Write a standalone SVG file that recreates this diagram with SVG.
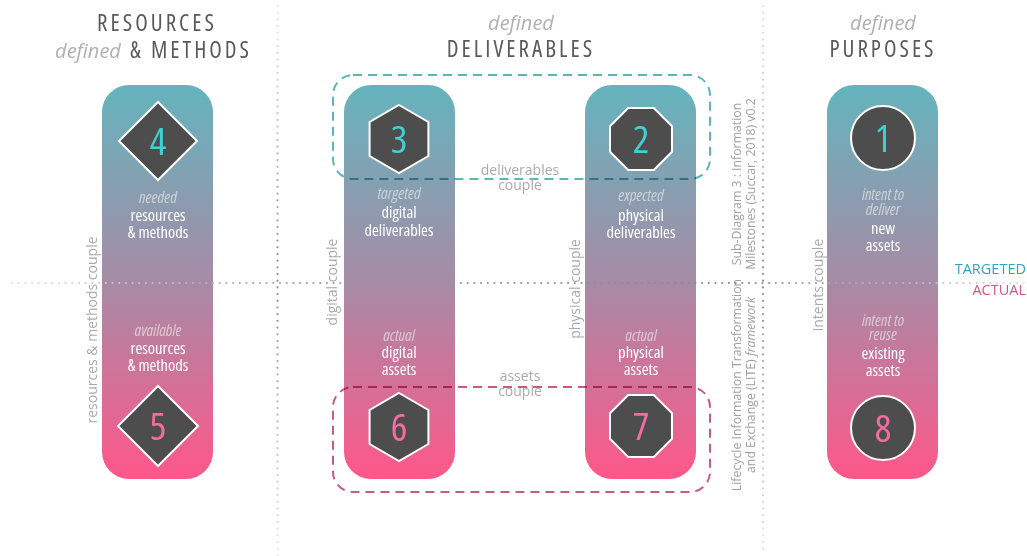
<svg xmlns="http://www.w3.org/2000/svg" width="1027" height="556" viewBox="0 0 1027 556">
  <style>
    text { font-family: "Open Sans", "Noto Sans", "DejaVu Sans", sans-serif; }
    .title { font-size: 23px; fill: #5a5a5a; letter-spacing: 3px; text-anchor: middle; font-stretch: condensed; }
    .def { font-size: 20px; fill: #b0b0b0; font-style: italic; text-anchor: middle; }
    .lbl { font-size: 16.5px; fill: #ffffff; text-anchor: middle; font-stretch: condensed; }
    .lbli { font-size: 16px; fill: #e6e6e6; fill-opacity: 0.72; font-style: italic; text-anchor: middle; font-stretch: condensed; }
    .side { font-size: 14px; fill: #aaaaaa; text-anchor: middle; }
    .note { font-size: 12.3px; fill: #a0a0a0; text-anchor: middle; }
    .num { font-size: 39px; text-anchor: middle; font-stretch: condensed; }
    .top { fill: #3fd0d0; }
    .bot { fill: #f56c9f; }
    .shape { fill: #4d4d4d; stroke: #ffffff; stroke-width: 2; }
    .pillar { fill: url(#pillarGrad); }
    .dots { fill: none; stroke-width: 2.2; stroke-linecap: round; stroke-dasharray: 0 6.7; }
    .couple { fill: none; stroke-width: 2; stroke-dasharray: 9 6; mix-blend-mode: multiply; }
    .state { font-size: 14.5px; text-anchor: end; }
  </style>
  <defs>
    <linearGradient id="pillarGrad" gradientUnits="userSpaceOnUse" x1="0" y1="85" x2="0" y2="479">
      <stop offset="0" stop-color="#64b4bd"/>
      <stop offset="0.5" stop-color="#a78ba6"/>
      <stop offset="1" stop-color="#fe5789"/>
    </linearGradient>
    <linearGradient id="hFade" gradientUnits="userSpaceOnUse" x1="10" y1="0" x2="1027" y2="0">
      <stop offset="0" stop-color="#e0e0e0"/>
      <stop offset="0.3" stop-color="#9a9a9a"/>
      <stop offset="0.72" stop-color="#8a8a8a"/>
      <stop offset="1" stop-color="#dddddd"/>
    </linearGradient>
    <linearGradient id="vFade" gradientUnits="userSpaceOnUse" x1="0" y1="5" x2="0" y2="556">
      <stop offset="0" stop-color="#e6e6e6"/>
      <stop offset="0.5" stop-color="#8a8a8a"/>
      <stop offset="1" stop-color="#e6e6e6"/>
    </linearGradient>
  </defs>

  <!-- column headings -->
  <g id="headings">
    <text class="title" x="157" y="31">RESOURCES</text>
    <text class="def" x="88" y="58">defined</text>
    <text class="title" x="191" y="58">&amp; METHODS</text>
    <text class="def" x="521" y="30">defined</text>
    <text class="title" x="521" y="57">DELIVERABLES</text>
    <text class="def" x="883" y="30">defined</text>
    <text class="title" x="883" y="57">PURPOSES</text>
  </g>

  <!-- pillars -->
  <g id="pillar-resources">
    <rect class="pillar" x="102" y="85" width="111" height="394" rx="27"/>
  </g>
  <g id="pillar-digital">
    <rect class="pillar" x="344" y="85" width="111" height="394" rx="27"/>
  </g>
  <g id="pillar-physical">
    <rect class="pillar" x="585" y="85" width="111" height="394" rx="27"/>
  </g>
  <g id="pillar-purposes">
    <rect class="pillar" x="827" y="85" width="111" height="394" rx="27"/>
  </g>

  <!-- divider lines and couple outlines -->
  <g id="connectors">
    <line class="dots" x1="277.5" y1="6" x2="277.5" y2="556" stroke="url(#vFade)"/>
    <line class="dots" x1="763" y1="6" x2="763" y2="552" stroke="url(#vFade)"/>
    <line class="dots" x1="12" y1="283" x2="1027" y2="283" stroke="url(#hFade)"/>
    <rect class="couple" x="333" y="75" width="377" height="104" rx="20" stroke="#5ab5bd"/>
    <rect class="couple" x="333" y="387" width="377" height="105" rx="20" stroke="#c65a80"/>
  </g>

  <!-- 4: needed resources & methods -->
  <g id="node-4">
    <polygon class="shape" points="158,102 197,141 158,180 119,141"/>
    <text class="num top" x="158" y="155">4</text>
    <text class="lbli" x="158" y="203">needed</text>
    <text class="lbl" x="158" y="221">resources</text>
    <text class="lbl" x="158" y="238">&amp; methods</text>
  </g>

  <!-- 5: available resources & methods -->
  <g id="node-5">
    <text class="lbli" x="158" y="336">available</text>
    <text class="lbl" x="158" y="354">resources</text>
    <text class="lbl" x="158" y="371">&amp; methods</text>
    <polygon class="shape" points="158,386 198,426 158,466 118,426"/>
    <text class="num bot" x="158" y="440">5</text>
  </g>

  <!-- 3: targeted digital deliverables -->
  <g id="node-3">
    <polygon class="shape" points="399,105 428.4,122 428.4,156 399,173 369.6,156 369.6,122"/>
    <text class="num top" x="399" y="153">3</text>
    <text class="lbli" x="399" y="199">targeted</text>
    <text class="lbl" x="399" y="218">digital</text>
    <text class="lbl" x="399" y="236">deliverables</text>
  </g>

  <!-- 6: actual digital assets -->
  <g id="node-6">
    <text class="lbli" x="399" y="341">actual</text>
    <text class="lbl" x="399" y="358">digital</text>
    <text class="lbl" x="399" y="375">assets</text>
    <polygon class="shape" points="399,393 428.4,410 428.4,444 399,461 369.6,444 369.6,410"/>
    <text class="num bot" x="399" y="441">6</text>
  </g>

  <!-- 2: expected physical deliverables -->
  <g id="node-2">
    <polygon class="shape" points="628.2,108 653.8,108 672,126.2 672,151.8 653.8,170 628.2,170 610,151.8 610,126.2"/>
    <text class="num top" x="641" y="153">2</text>
    <text class="lbli" x="641" y="201">expected</text>
    <text class="lbl" x="641" y="221">physical</text>
    <text class="lbl" x="641" y="238">deliverables</text>
  </g>

  <!-- 7: actual physical assets -->
  <g id="node-7">
    <text class="lbli" x="641" y="341">actual</text>
    <text class="lbl" x="641" y="358">physical</text>
    <text class="lbl" x="641" y="375">assets</text>
    <polygon class="shape" points="628.2,395 653.8,395 672,413.2 672,438.8 653.8,457 628.2,457 610,438.8 610,413.2"/>
    <text class="num bot" x="641" y="440">7</text>
  </g>

  <!-- 1: intent to deliver new assets -->
  <g id="node-1">
    <circle class="shape" cx="883" cy="138" r="32"/>
    <text class="num top" x="883" y="152">1</text>
    <text class="lbli" x="883" y="200">intent to</text>
    <text class="lbli" x="883" y="215">deliver</text>
    <text class="lbl" x="883" y="234">new</text>
    <text class="lbl" x="883" y="251">assets</text>
  </g>

  <!-- 8: intent to reuse existing assets -->
  <g id="node-8">
    <text class="lbli" x="883" y="326">intent to</text>
    <text class="lbli" x="883" y="340">reuse</text>
    <text class="lbl" x="883" y="359">existing</text>
    <text class="lbl" x="883" y="376">assets</text>
    <circle class="shape" cx="883" cy="428" r="32"/>
    <text class="num bot" x="883" y="442">8</text>
  </g>

  <!-- couple labels -->
  <g id="couple-labels">
    <text class="side" x="520" y="175">deliverables</text>
    <text class="side" x="520" y="190">couple</text>
    <text class="side" x="520" y="381">assets</text>
    <text class="side" x="520" y="396">couple</text>
    <text class="side" transform="translate(97,330) rotate(-90)">resources &amp; methods couple</text>
    <text class="side" transform="translate(337,282) rotate(-90)">digital couple</text>
    <text class="side" transform="translate(580,289) rotate(-90)">physical couple</text>
    <text class="side" transform="translate(823,285) rotate(-90)">intents couple</text>
  </g>

  <!-- state labels -->
  <g id="states">
    <text class="state" x="1026" y="274" fill="#2ea6bf">TARGETED</text>
    <text class="state" x="1026" y="295" fill="#d1587f">ACTUAL</text>
  </g>

  <!-- framework note -->
  <g id="framework-note">
    <text class="note" transform="translate(741,184) rotate(-90)">Sub-Diagram 3 : Information</text>
    <text class="note" transform="translate(755,184) rotate(-90)">Milestones (Succar, 2018)  v0.2</text>
    <text class="note" transform="translate(741,385) rotate(-90)">Lifecycle Information Transformation</text>
    <text class="note" transform="translate(755,385) rotate(-90)">and Exchange (LITE) <tspan font-style="italic">framework</tspan></text>
  </g>
</svg>
